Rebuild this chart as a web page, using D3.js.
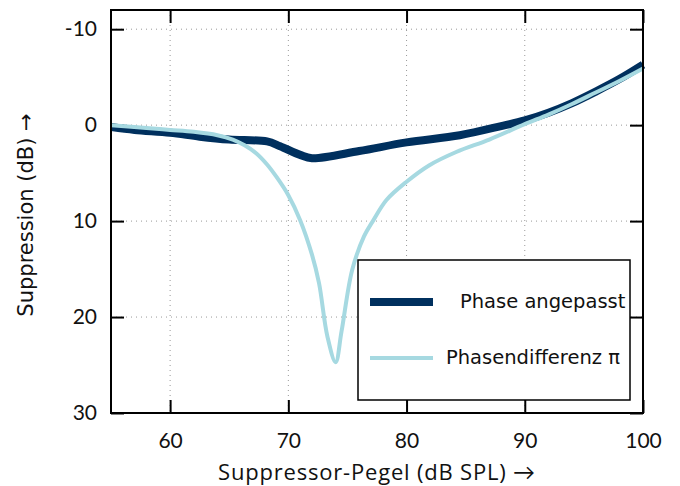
<!DOCTYPE html>
<html>
<head>
<meta charset="utf-8">
<script src="https://cdn.jsdelivr.net/npm/d3@7"></script>
<style>
  body { margin: 0; background: #fff; }
  .tick-label { font-family: Lato, "Open Sans", sans-serif; font-size: 21px; fill: #111; }
</style>
</head>
<body>
<div id="chart"></div>
<script>
// Data
var levelMatched = [55, 57, 60, 62.5, 65, 68.2, 69.3, 71, 72, 76, 80, 84.5, 88, 90, 92, 94, 96, 98, 100];
var suppMatched = [0.2, 0.5, 0.8, 1.2, 1.5, 1.7, 2.2, 3.1, 3.45, 2.7, 1.8, 1.05, 0.1, -0.5, -1.3, -2.3, -3.5, -4.8, -6.3];

var levelPi = [55, 58, 60, 62, 64, 65.3, 66.3, 67.3, 68.2, 69, 70, 71, 72, 72.6, 73.3, 74, 74.5, 75.4, 76.4, 77.2, 78.3, 80, 81.9, 84.2, 87, 90, 92, 94, 96, 98, 100];
var suppPi = [0.0, 0.3, 0.5, 0.7, 1.05, 1.5, 2.1, 2.95, 4.1, 5.4, 7.3, 9.9, 13.5, 16.5, 22.0, 24.7, 21.5, 15.1, 11.6, 9.9, 7.8, 5.9, 4.2, 2.8, 1.5, -0.1, -1.1, -2.2, -3.4, -4.6, -5.9];

var xTicks = [60, 70, 80, 90, 100];
var yTicks = [-10, 0, 10, 20, 30];
var seriesNames = ["Phase angepasst", "Phasendifferenz \u03c0"];

var svgWidth = 680;
var svgHeight = 486;
var margin = { top: 10, right: 37, bottom: 73, left: 111 };
var width = svgWidth - margin.left - margin.right;
var height = svgHeight - margin.top - margin.bottom;

var svg = d3.select("#chart").append("svg")
    .attr("width", svgWidth)
    .attr("height", svgHeight);

var chartGroup = svg.append("g")
    .attr("transform", `translate(${margin.left}, ${margin.top})`);

var xScale = d3.scaleLinear().domain([55, 100]).range([0, width]);
var yScale = d3.scaleLinear().domain([-12, 30]).range([0, height]);

// Dotted grid
chartGroup.append("g").selectAll("line.gx")
    .data(xTicks.filter(d => d < 100))
    .enter().append("line")
    .attr("x1", d => xScale(d)).attr("x2", d => xScale(d))
    .attr("y1", 0).attr("y2", height)
    .attr("stroke", "#999").attr("stroke-width", 1)
    .attr("stroke-dasharray", "1,4");

chartGroup.append("g").selectAll("line.gy")
    .data(yTicks.filter(d => d < 30))
    .enter().append("line")
    .attr("x1", 0).attr("x2", width)
    .attr("y1", d => yScale(d)).attr("y2", d => yScale(d))
    .attr("stroke", "#999").attr("stroke-width", 1)
    .attr("stroke-dasharray", "1,4");

// Axes with inward ticks on all four sides
var tickLen = 13;
var bottomAxis = d3.axisBottom(xScale).tickValues(xTicks).tickSizeInner(-tickLen).tickSizeOuter(0).tickPadding(20);
var topAxis = d3.axisTop(xScale).tickValues(xTicks).tickSizeInner(-tickLen).tickSizeOuter(0).tickFormat("");
var leftAxis = d3.axisLeft(yScale).tickValues(yTicks).tickSizeInner(-tickLen).tickSizeOuter(0).tickPadding(14)
    .tickFormat(d => String(d));
var rightAxis = d3.axisRight(yScale).tickValues(yTicks).tickSizeInner(-tickLen).tickSizeOuter(0).tickFormat("");

function styleAxis(g) {
    g.select(".domain").remove();
    g.selectAll(".tick line").attr("stroke", "#000").attr("stroke-width", 2);
    g.selectAll(".tick text").attr("class", "tick-label").attr("font-family", null).attr("font-size", null);
}

chartGroup.append("g").attr("transform", `translate(0, ${height})`).call(bottomAxis).call(styleAxis);
chartGroup.append("g").call(topAxis).call(styleAxis);
chartGroup.append("g").call(leftAxis).call(styleAxis);
chartGroup.append("g").attr("transform", `translate(${width}, 0)`).call(rightAxis).call(styleAxis);

// Lines
chartGroup.append("clipPath").attr("id", "clip")
    .append("rect").attr("x", 0).attr("y", 0).attr("width", width + 2).attr("height", height);

var line = d3.line()
    .x(d => xScale(d[0]))
    .y(d => yScale(d[1]))
    .curve(d3.curveCatmullRom.alpha(0.5));

chartGroup.append("path")
    .datum(levelMatched.map((v, i) => [v, suppMatched[i]]))
    .attr("clip-path", "url(#clip)")
    .attr("fill", "none")
    .attr("stroke", "#00305e")
    .attr("stroke-width", 8)
    .attr("d", line);

chartGroup.append("path")
    .datum(levelPi.map((v, i) => [v, suppPi[i]]))
    .attr("clip-path", "url(#clip)")
    .attr("fill", "none")
    .attr("stroke", "#a6d9e1")
    .attr("stroke-width", 4)
    .attr("d", line);

// Frame
chartGroup.append("rect")
    .attr("x", 0).attr("y", 0)
    .attr("width", width).attr("height", height)
    .attr("fill", "none")
    .attr("stroke", "#000")
    .attr("stroke-width", 2);

// Legend
var legend = svg.append("g").attr("transform", "translate(358, 260)");
legend.append("rect")
    .attr("width", 272).attr("height", 140)
    .attr("fill", "#fff").attr("stroke", "#000").attr("stroke-width", 1.5);
legend.append("line")
    .attr("x1", 12).attr("x2", 75).attr("y1", 42).attr("y2", 42)
    .attr("stroke", "#00305e").attr("stroke-width", 8);
legend.append("line")
    .attr("x1", 12).attr("x2", 75).attr("y1", 98).attr("y2", 98)
    .attr("stroke", "#a6d9e1").attr("stroke-width", 4);
legend.append("text")
    .attr("x", 102).attr("y", 48)
    .attr("font-family", "DejaVu Sans").attr("font-size", 19.5).attr("fill", "#111")
    .text(seriesNames[0]);
legend.append("text")
    .attr("x", 88).attr("y", 104)
    .attr("font-family", "DejaVu Sans").attr("font-size", 19.5).attr("fill", "#111")
    .text(seriesNames[1]);

// Axis titles
svg.append("text")
    .attr("x", 218).attr("y", 480)
    .attr("font-family", "'Open Sans', Lato, sans-serif")
    .attr("font-size", 22)
    .attr("fill", "#111")
    .attr("textLength", 317)
    .attr("lengthAdjust", "spacing")
    .text("Suppressor-Pegel (dB SPL) \u2192");

svg.append("text")
    .attr("transform", "translate(33, 215) rotate(-90)")
    .attr("text-anchor", "middle")
    .attr("font-family", "DejaVu Sans").attr("font-size", 21).attr("fill", "#111")
    .text("Suppression (dB) \u2192");
</script>
</body>
</html>
